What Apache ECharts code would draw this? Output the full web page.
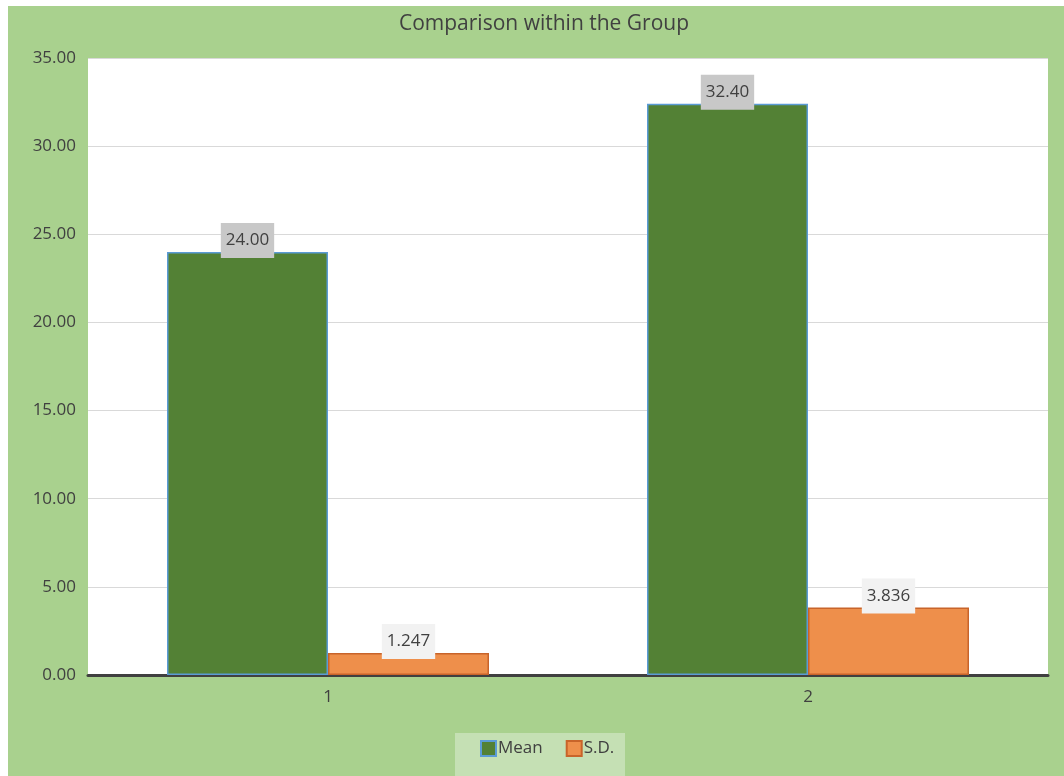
<!DOCTYPE html>
<html>
<head>
<meta charset="utf-8">
<script src="https://cdn.jsdelivr.net/npm/echarts@6/dist/echarts.min.js"></script>
<style>
  html, body { margin: 0; padding: 0; background: #ffffff; }
  #chart { width: 1064px; height: 776px; }
</style>
</head>
<body>
<div id="chart"></div>
<script>
// Group comparison: mean and standard deviation per group
const categories = ['1', '2'];
const meanValues = [24.00, 32.40];
const sdValues = [1.247, 3.836];
const yTicks = { min: 0, max: 35, interval: 5 };

const FONT = '"Open Sans", "Noto Sans", sans-serif';
const TEXT = '#404040';

const chart = echarts.init(document.getElementById('chart'), null, { renderer: 'canvas' });

chart.setOption({
  backgroundColor: '#ffffff',
  animation: false,
  textStyle: { fontFamily: FONT, color: TEXT },
  graphic: [
    { type: 'rect', z: -10, shape: { x: 8, y: 6, width: 1056, height: 770 }, style: { fill: '#a9d18e' } },
    { type: 'rect', z: -9, shape: { x: 455, y: 733, width: 170, height: 43 }, style: { fill: '#c5e0b4' } }
  ],
  title: {
    text: 'Comparison within the Group',
    left: 539,
    textAlign: 'center',
    top: 9,
    textStyle: { fontFamily: FONT, fontSize: 21, fontWeight: 'normal', color: TEXT }
  },
  legend: {
    left: 475,
    top: 735,
    icon: 'rect',
    itemWidth: 15,
    itemHeight: 15,
    itemGap: 23,
    textStyle: { fontFamily: FONT, fontSize: 17, color: TEXT, padding: [0, 0, 0, -3] },
    data: ['Mean', 'S.D.']
  },
  grid: {
    left: 88, right: 16, top: 58, bottom: 101,
    show: true, backgroundColor: '#ffffff', borderWidth: 0
  },
  xAxis: {
    type: 'category',
    data: categories,
    axisLine: { lineStyle: { color: '#404040', width: 3 } },
    axisTick: { show: false },
    axisLabel: { fontFamily: FONT, fontSize: 17, color: TEXT, margin: 14 }
  },
  yAxis: {
    type: 'value',
    min: yTicks.min, max: yTicks.max, interval: yTicks.interval,
    axisLine: { show: false },
    axisTick: { show: false },
    splitLine: { lineStyle: { color: '#d9d9d9', width: 1 } },
    axisLabel: {
      fontFamily: FONT, fontSize: 17, color: TEXT, margin: 12,
      formatter: v => v.toFixed(2)
    }
  },
  series: [
    {
      name: 'Mean',
      type: 'bar',
      data: meanValues,
      barWidth: 161,
      barGap: '0%',
      itemStyle: { color: '#538135', borderColor: '#5b9bd5', borderWidth: 1.5 },
      label: {
        show: true, position: 'top', distance: -6,
        formatter: p => p.value.toFixed(2),
        fontFamily: FONT, fontSize: 17, color: TEXT,
        backgroundColor: '#c8c8c8', padding: [9, 5, 9, 5]
      }
    },
    {
      name: 'S.D.',
      type: 'bar',
      data: sdValues,
      barWidth: 161,
      barGap: '0%',
      itemStyle: { color: '#ee8f4b', borderColor: '#c8642a', borderWidth: 1.5 },
      label: {
        show: true, position: 'top', distance: -6,
        formatter: p => p.value.toFixed(3),
        fontFamily: FONT, fontSize: 17, color: TEXT,
        backgroundColor: '#f2f2f2', padding: [9, 5, 9, 5]
      }
    }
  ]
});
</script>
</body>
</html>
